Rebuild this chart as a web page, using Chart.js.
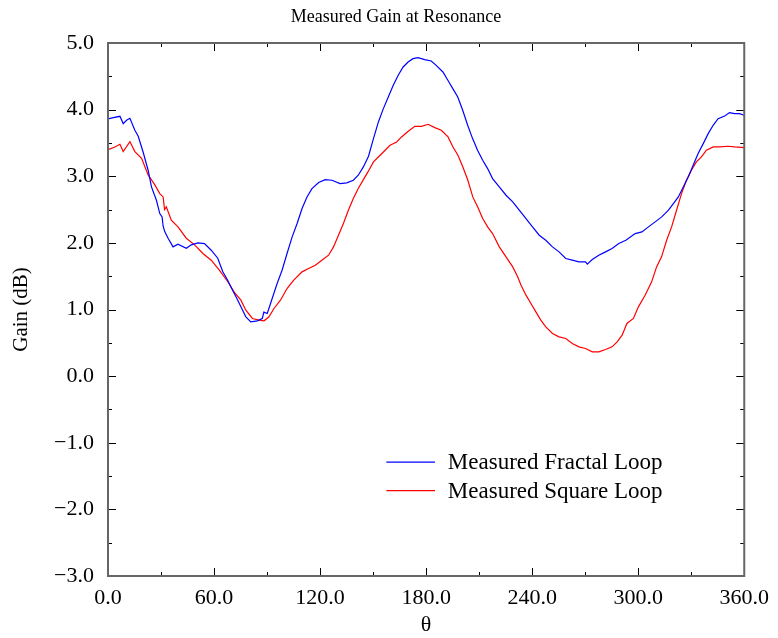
<!DOCTYPE html>
<html>
<head>
<meta charset="utf-8">
<script src="https://cdn.jsdelivr.net/npm/chart.js@4.4.1/dist/chart.umd.min.js"></script>
<style>
  html, body { margin: 0; padding: 0; background: #ffffff; }
  #wrap { width: 778px; height: 638px; }
</style>
</head>
<body>
<div id="wrap"><canvas id="c" width="778" height="638"></canvas></div>
<script>
const chartTitle = 'Measured Gain at Resonance';
const xAxisTitle = 'θ';
const yAxisTitle = 'Gain (dB)';
const seriesNames = ['Measured Fractal Loop', 'Measured Square Loop'];
const seriesColors = ['#0000ff', '#ff0000'];

const thetaFractal = [0, 3, 6.75, 8.6, 10.5, 12.4, 15.2, 17.1, 19.9, 22.7, 24.6, 27.4, 29.3, 30.6, 31.2, 32.1, 34, 36.8, 39.6, 44.3, 47.1, 50.9, 54.6, 58.4, 62.1, 64.9, 67.7, 70.5, 73, 75.2, 78, 80.8, 84.5, 87.3, 88.2, 90.1, 92.9, 95.7, 98.5, 101.3, 104.2, 107, 109.8, 112.6, 115.4, 119.2, 122.9, 126.7, 131.3, 135.1, 138.8, 141.6, 144.5, 147.4, 150.2, 153, 155.8, 158.6, 161.4, 164.2, 167, 169.8, 172.6, 175.4, 179.2, 182.9, 185.7, 189.5, 192.3, 195.1, 197.9, 200.7, 203.5, 206.3, 209.1, 212, 214.8, 217.6, 221.4, 225.2, 229, 232.7, 236.5, 240.2, 244, 247.7, 251.5, 255.2, 259, 262.7, 266.5, 270.2, 271.2, 274, 277.7, 281.5, 285.2, 289, 293, 298.3, 302.1, 305.8, 309.6, 313.3, 317.1, 319.9, 322.7, 325.5, 328.3, 331.1, 333.9, 336.8, 339.6, 342.4, 345.2, 348.9, 351.7, 354.5, 357.3, 360];
const gainFractal = [3.86, 3.88, 3.9, 3.79, 3.84, 3.87, 3.69, 3.6, 3.36, 3.09, 2.84, 2.64, 2.44, 2.39, 2.25, 2.17, 2.07, 1.94, 1.98, 1.92, 1.97, 2.0, 1.99, 1.89, 1.77, 1.57, 1.44, 1.29, 1.16, 1.04, 0.89, 0.815, 0.83, 0.865, 0.96, 0.94, 1.165, 1.39, 1.59, 1.84, 2.09, 2.29, 2.515, 2.69, 2.815, 2.905, 2.95, 2.94, 2.89, 2.9, 2.94, 3.015, 3.14, 3.3, 3.565, 3.815, 4.015, 4.19, 4.365, 4.515, 4.64, 4.715, 4.765, 4.78, 4.75, 4.73, 4.665, 4.565, 4.44, 4.315, 4.19, 3.99, 3.765, 3.565, 3.39, 3.24, 3.115, 2.965, 2.84, 2.715, 2.615, 2.49, 2.365, 2.24, 2.115, 2.04, 1.94, 1.865, 1.765, 1.74, 1.715, 1.715, 1.68, 1.75, 1.815, 1.865, 1.915, 1.99, 2.04, 2.14, 2.165, 2.24, 2.315, 2.39, 2.49, 2.59, 2.69, 2.84, 2.99, 3.165, 3.34, 3.49, 3.64, 3.765, 3.865, 3.905, 3.955, 3.94, 3.94, 3.915];

const thetaSquare = [0, 3.9, 6.75, 8.6, 12.4, 15.2, 19, 22.7, 26.5, 29.3, 31.2, 32, 33, 35.8, 39.6, 44.3, 49, 53.7, 58.4, 63, 67.7, 71.4, 75.2, 78, 81.7, 85.5, 88.3, 91.1, 93.9, 97.6, 101.3, 105.1, 109.8, 113.5, 117.3, 121, 124.8, 127.6, 130.4, 133.2, 136, 138.8, 141.6, 144.5, 147.4, 150.2, 154, 156.8, 159.6, 163.3, 166.1, 169.9, 173.6, 177.4, 181.1, 184.9, 188.6, 192.4, 195.2, 198, 200.8, 203.6, 206.4, 209.2, 212, 214.8, 217.6, 221.4, 225.2, 229, 231.8, 233.7, 236.5, 239.3, 242.1, 244.9, 247.7, 251.5, 255.2, 259, 262.7, 266.5, 270.2, 274, 277.7, 281.5, 285.2, 288.1, 290.9, 293.6, 297.3, 300.1, 303.9, 307.6, 310.4, 313.2, 316.1, 318.9, 321.7, 324.5, 327.3, 330.1, 332.9, 335.8, 338.6, 342.4, 346.1, 350.8, 354.5, 360];
const gainSquare = [3.4, 3.44, 3.48, 3.37, 3.52, 3.37, 3.27, 3.02, 2.87, 2.74, 2.69, 2.5, 2.54, 2.34, 2.24, 2.07, 1.97, 1.84, 1.74, 1.59, 1.42, 1.26, 1.14, 0.99, 0.865, 0.84, 0.83, 0.89, 1.015, 1.14, 1.315, 1.44, 1.565, 1.615, 1.665, 1.74, 1.815, 1.94, 2.115, 2.29, 2.49, 2.665, 2.815, 2.95, 3.08, 3.215, 3.315, 3.39, 3.465, 3.515, 3.59, 3.675, 3.75, 3.75, 3.78, 3.73, 3.69, 3.59, 3.44, 3.315, 3.14, 2.94, 2.69, 2.54, 2.365, 2.24, 2.14, 1.94, 1.79, 1.64, 1.49, 1.365, 1.215, 1.09, 0.965, 0.84, 0.74, 0.64, 0.59, 0.565, 0.49, 0.44, 0.415, 0.365, 0.365, 0.4, 0.44, 0.515, 0.615, 0.79, 0.865, 1.04, 1.215, 1.415, 1.64, 1.79, 2.04, 2.24, 2.49, 2.74, 2.94, 3.09, 3.215, 3.29, 3.39, 3.44, 3.44, 3.45, 3.44, 3.43];

const xMin = 0, xMax = 360, xMajor = 60, xMinor = 30;
const yMin = -3, yMax = 5, yMajor = 1, yMinor = 0.5;

const FONT = "'Liberation Serif', 'Times New Roman', serif";

function toPoints(xs, ys) { return xs.map((x, i) => ({ x: x, y: ys[i] })); }
function fmt(v) {
  const s = Math.abs(v).toFixed(1);
  return v < -1e-9 ? '\u2212' + s : s;
}

const framePlugin = {
  id: 'frameTicks',
  afterDatasetsDraw(chart) {
    const ctx = chart.ctx;
    const a = chart.chartArea;
    const xs = chart.scales.x, ys = chart.scales.y;
    ctx.save();
    ctx.strokeStyle = '#000000';
    ctx.lineWidth = 1;
    for (let v = xMin; v <= xMax + 1e-9; v += xMinor) {
      const px = Math.round(xs.getPixelForValue(v)) + 0.5;
      const len = (Math.abs(v / xMajor - Math.round(v / xMajor)) < 1e-6) ? 8 : 4;
      ctx.beginPath();
      ctx.moveTo(px, a.bottom); ctx.lineTo(px, a.bottom - len);
      ctx.moveTo(px, a.top); ctx.lineTo(px, a.top + len);
      ctx.stroke();
    }
    for (let v = yMin; v <= yMax + 1e-9; v += yMinor) {
      const py = Math.round(ys.getPixelForValue(v)) + 0.5;
      const len = (Math.abs(v / yMajor - Math.round(v / yMajor)) < 1e-6) ? 8 : 4;
      ctx.beginPath();
      ctx.moveTo(a.left, py); ctx.lineTo(a.left + len, py);
      ctx.moveTo(a.right, py); ctx.lineTo(a.right - len, py);
      ctx.stroke();
    }
    ctx.strokeStyle = '#666666';
    ctx.lineWidth = 2;
    ctx.strokeRect(a.left, a.top, a.right - a.left, a.bottom - a.top);

    // title
    ctx.fillStyle = '#000000';
    ctx.font = "18px " + FONT;
    ctx.textAlign = 'center';
    ctx.textBaseline = 'middle';
    ctx.fillText(chartTitle, 396, 17);

    // legend
    const lx0 = xs.getPixelForValue(157.5), lx1 = xs.getPixelForValue(185), tx = xs.getPixelForValue(192.3);
    const rows = [ys.getPixelForValue(-1.29), ys.getPixelForValue(-1.72)];
    ctx.font = "23px " + FONT;
    ctx.textBaseline = 'middle';
    ctx.textAlign = 'left';
    chart.data.datasets.forEach((ds, i) => {
      ctx.strokeStyle = ds.borderColor;
      ctx.lineWidth = 1.2;
      ctx.beginPath();
      ctx.moveTo(lx0, rows[i]); ctx.lineTo(lx1, rows[i]);
      ctx.stroke();
      ctx.fillStyle = '#000000';
      ctx.fillText(ds.label, tx, rows[i] + 1);
    });
    ctx.restore();
  }
};

new Chart(document.getElementById('c'), {
  type: 'line',
  data: {
    datasets: [
      { label: seriesNames[0], data: toPoints(thetaFractal, gainFractal), borderColor: seriesColors[0], borderWidth: 1.2, pointRadius: 0, tension: 0, fill: false },
      { label: seriesNames[1], data: toPoints(thetaSquare, gainSquare), borderColor: seriesColors[1], borderWidth: 1.2, pointRadius: 0, tension: 0, fill: false }
    ]
  },
  options: {
    responsive: false,
    animation: false,
    layout: { padding: { top: 43, right: 30, bottom: 0, left: 0 } },
    plugins: {
      legend: { display: false },
      tooltip: { enabled: false },
      title: { display: false }
    },
    scales: {
      x: {
        type: 'linear', min: xMin, max: xMax,
        grid: { display: false, drawTicks: false },
        border: { display: false },
        ticks: { stepSize: xMajor, color: '#000000', padding: 9, maxRotation: 0,
                 font: { family: FONT, size: 22 }, callback: (v) => fmt(v) },
        title: { display: true, text: xAxisTitle, color: '#000000', padding: { top: 0, bottom: 0 },
                 font: { family: FONT, size: 22 } },
        afterFit: (s) => { s.height = 62; }
      },
      y: {
        type: 'linear', min: yMin, max: yMax,
        grid: { display: false, drawTicks: false },
        border: { display: false },
        ticks: { stepSize: yMajor, color: '#000000', padding: 14,
                 font: { family: FONT, size: 22 }, callback: (v) => fmt(v) },
        title: { display: true, text: yAxisTitle, color: '#000000', padding: { top: 9, bottom: 0 },
                 font: { family: FONT, size: 21 } },
        afterFit: (s) => { s.width = 108; }
      }
    }
  },
  plugins: [framePlugin]
});
</script>
</body>
</html>
